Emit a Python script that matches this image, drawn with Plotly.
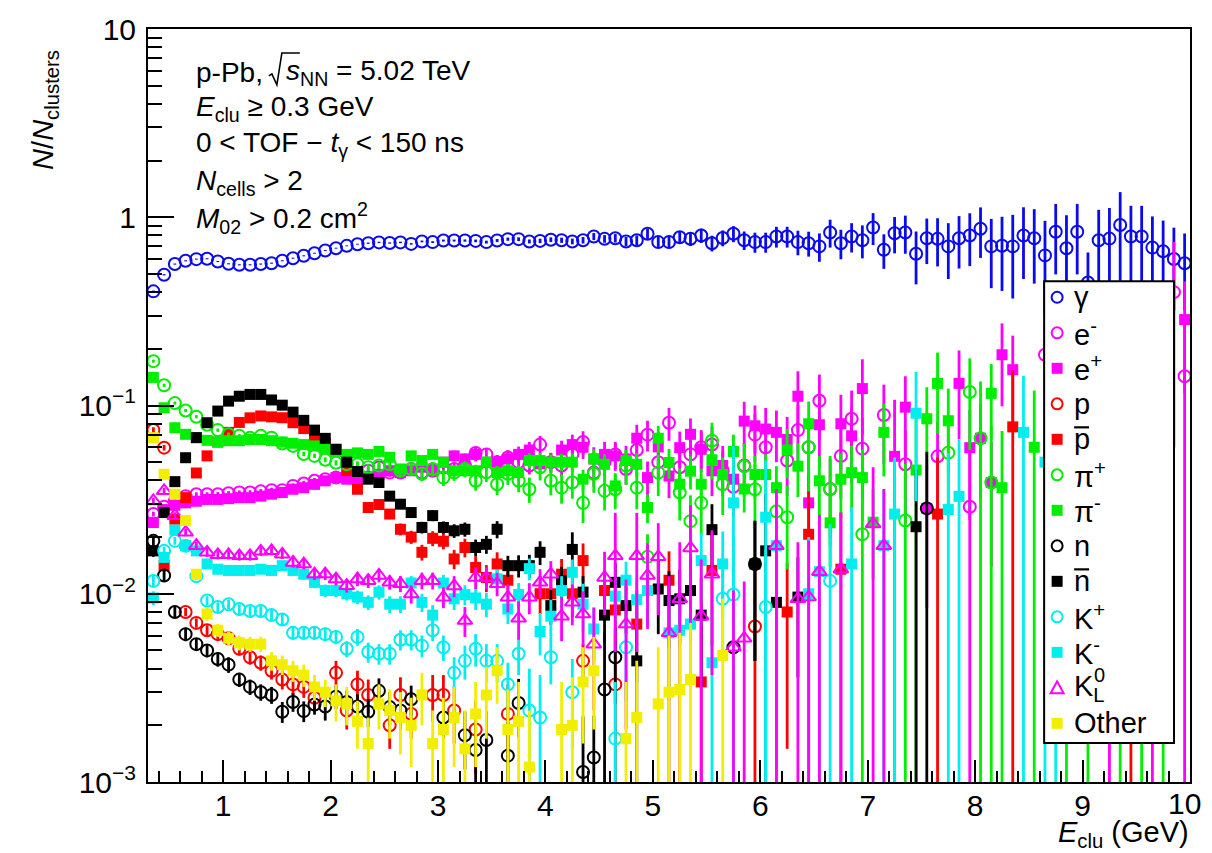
import plotly.graph_objects as go

# ---------------------------------------------------------------------------
# Histogram binning: 0.1 GeV wide bins between 0.3 and 10 GeV
# ---------------------------------------------------------------------------
E_MIN, BIN_W, N_BINS = 0.3, 0.1, 97
E_CENTERS = [round(E_MIN + BIN_W * (k + 0.5), 3) for k in range(N_BINS)]

N = None  # empty bin

# ---------------------------------------------------------------------------
# Fraction of clusters per particle species (N / N_clusters) and stat. errors
# ---------------------------------------------------------------------------
gamma = [
    0.404, 0.495, 0.564, 0.587, 0.599, 0.602, 0.582, 0.566, 0.559, 0.559,
    0.564, 0.570, 0.587, 0.606, 0.624, 0.644, 0.666, 0.685, 0.705, 0.719,
    0.728, 0.735, 0.730, 0.735, 0.722, 0.744, 0.738, 0.752, 0.752, 0.752,
    0.749, 0.738, 0.752, 0.765, 0.765, 0.744, 0.749, 0.760, 0.755, 0.744,
    0.755, 0.790, 0.768, 0.774, 0.744, 0.755, 0.817, 0.738, 0.738, 0.783,
    0.768, 0.800, 0.728, 0.776, 0.817, 0.755, 0.738, 0.738, 0.790, 0.790,
    0.738, 0.728, 0.700, 0.830, 0.728, 0.790, 0.755, 0.882, 0.672, 0.823,
    0.830, 0.640, 0.774, 0.768, 0.700, 0.774, 0.800, 0.868, 0.700, 0.706,
    0.700, 0.800, 0.774, 0.627, 0.837, 0.685, 0.837, 0.450, 0.755, 0.770,
    0.910, 0.790, 0.790, 0.690, 0.660, 0.600, 0.570]
gamma_err = [
    0.004, 0.004, 0.004, 0.004, 0.004, 0.004, 0.004, 0.004, 0.004, 0.004,
    0.004, 0.004, 0.004, 0.004, 0.004, 0.004, 0.004, 0.004, 0.004, 0.004,
    0.006, 0.006, 0.006, 0.007, 0.007, 0.008, 0.008, 0.009, 0.009, 0.010,
    0.012, 0.013, 0.014, 0.015, 0.017, 0.018, 0.020, 0.022, 0.024, 0.026,
    0.030, 0.034, 0.036, 0.040, 0.042, 0.045, 0.050, 0.050, 0.055, 0.060,
    0.065, 0.070, 0.070, 0.075, 0.080, 0.085, 0.090, 0.090, 0.100, 0.100,
    0.110, 0.110, 0.120, 0.140, 0.130, 0.140, 0.150, 0.170, 0.140, 0.180,
    0.190, 0.200, 0.210, 0.220, 0.230, 0.240, 0.250, 0.260, 0.280, 0.300,
    0.330, 0.330, 0.330, 0.330, 0.340, 0.340, 0.340, 0.200, 0.340, 0.350,
    0.450, 0.360, 0.360, 0.320, 0.300, 0.280, 0.250]

e_minus = [
    0.0265, 0.029, 0.031, 0.033, 0.0338, 0.0338, 0.0338, 0.0342, 0.0345, 0.0345,
    0.035, 0.0355, 0.0355, 0.0374, 0.0385, 0.0398, 0.0406, 0.0414, 0.042, 0.044,
    0.045, 0.0469, 0.044, 0.044, 0.046, 0.044, 0.045, 0.047, 0.046, 0.048,
    0.056, 0.055, 0.050, 0.053, 0.050, 0.048, 0.062, 0.050, 0.048, 0.055,
    0.064, 0.044, 0.050, 0.055, 0.046, 0.058, 0.070, 0.050, 0.081, 0.047,
    0.055, 0.060, 0.062, 0.045, 0.037, 0.048, 0.070, 0.060, N, 0.051,
    0.074, 0.060, 0.106, 0.036, 0.054, 0.085, 0.059, N, 0.089, N,
    0.0487, N, N, 0.0537, N, N, 0.029, N, N, N,
    N, N, N, 0.186, N, N, N, N, N, N,
    N, N, N, N, N, 0.40, 0.143]
e_minus_err = [
    0.0008, 0.0008, 0.0008, 0.0008, 0.0008, 0.0008, 0.0009, 0.0009, 0.0009, 0.0010,
    0.0010, 0.0011, 0.0011, 0.0012, 0.0013, 0.0014, 0.0015, 0.0016, 0.0017, 0.0019,
    0.0020, 0.0022, 0.0022, 0.0023, 0.0025, 0.0026, 0.0028, 0.0030, 0.0032, 0.0035,
    0.0045, 0.0045, 0.0045, 0.0050, 0.0050, 0.0050, 0.0070, 0.0060, 0.0060, 0.0070,
    0.0090, 0.0070, 0.0080, 0.0090, 0.0080, 0.0100, 0.0130, 0.0100, 0.0160, 0.0100,
    0.0120, 0.0140, 0.0150, 0.0120, 0.0110, 0.0140, 0.0200, 0.0190, N, 0.0180,
    0.0270, 0.0220, 0.0400, 0.0160, 0.0220, 0.0350, 0.0270, N, 0.0400, N,
    0.0250, N, N, 0.0280, N, N, 0.0290, N, N, N,
    N, N, N, 0.0900, N, N, N, N, N, N,
    N, N, N, N, N, 0.3400, 0.1430]

e_plus = [
    0.0239, 0.028, 0.0295, 0.0304, 0.031, 0.0317, 0.0317, 0.032, 0.0324, 0.0324,
    0.033, 0.0338, 0.0345, 0.0359, 0.0366, 0.0381, 0.0398, 0.0414, 0.0406, 0.0406,
    0.042, 0.043, 0.045, 0.044, 0.045, 0.047, 0.045, 0.050, 0.054, 0.052,
    0.055, 0.050, 0.050, 0.052, 0.055, 0.058, 0.049, 0.050, 0.058, 0.062,
    0.060, 0.052, 0.055, 0.054, 0.052, 0.067, 0.0414, 0.0603, 0.0422, 0.0597,
    0.0703, 0.0585, 0.045, 0.048, 0.0406, 0.0826, 0.078, 0.075, 0.072, 0.066,
    0.112, 0.0304, 0.079, N, 0.080, 0.069, 0.123, N, N, 0.0537,
    0.098, N, 0.0284, N, N, 0.131, 0.0597, 0.067, 0.039, 0.186,
    0.155, N, N, N, N, N, N, N, N, 0.12,
    N, N, N, 0.09, N, N, 0.286]
e_plus_err = [
    0.0008, 0.0008, 0.0008, 0.0008, 0.0008, 0.0008, 0.0008, 0.0009, 0.0009, 0.0009,
    0.0010, 0.0010, 0.0011, 0.0012, 0.0013, 0.0014, 0.0015, 0.0016, 0.0017, 0.0018,
    0.0019, 0.0021, 0.0023, 0.0024, 0.0026, 0.0028, 0.0028, 0.0032, 0.0036, 0.0036,
    0.0045, 0.0043, 0.0045, 0.0050, 0.0055, 0.0060, 0.0055, 0.0060, 0.0070, 0.0080,
    0.0080, 0.0080, 0.0090, 0.0090, 0.0090, 0.0120, 0.0090, 0.0120, 0.0100, 0.0130,
    0.0150, 0.0140, 0.0120, 0.0130, 0.0120, 0.0220, 0.0220, 0.0220, 0.0220, 0.0210,
    0.0400, 0.0130, 0.0320, N, 0.0340, 0.0300, 0.0530, N, N, 0.0537,
    0.0450, N, 0.0200, N, N, 0.0650, 0.0350, 0.0350, 0.0250, 0.0870,
    0.0800, N, N, N, N, N, N, N, N, 0.1200,
    N, N, N, 0.0900, N, N, 0.1700]

proton = [
    0.0741, 0.0597, N, 0.0080, 0.0070, 0.0064, 0.0061, 0.0058, 0.0051, 0.0046,
    0.0043, 0.0039, 0.0035, 0.0033, 0.0032, 0.0028, N, 0.0038, 0.0024, 0.0033,
    0.0029, N, 0.0020, 0.0029, 0.0023, N, 0.0029, 0.0029, 0.0024, N,
    0.0019, N, N, 0.0023, N, N, N, N, N, N,
    0.0044, N, N, 0.0033, N, N, N, N, N, N,
    N, N, N, N, N, N, 0.0067, N, N, N,
    N, N, N, N, N, N, N, N, N, N,
    N, N, N, N, N, N, N, N, N, N,
    N, N, N, N, N, N, N, N, N, N,
    N, N, N, N, N, N, N]
proton_err = [
    0.0025, 0.0020, N, 0.0004, 0.0004, 0.0004, 0.0004, 0.0004, 0.0004, 0.0004,
    0.0004, 0.0004, 0.0004, 0.0004, 0.0004, 0.0004, N, 0.0006, 0.0005, 0.0006,
    0.0006, N, 0.0005, 0.0007, 0.0006, N, 0.0008, 0.0008, 0.0008, N,
    0.0008, N, N, 0.0010, N, N, N, N, N, N,
    0.0010, N, N, 0.0026, N, N, N, N, N, N,
    N, N, N, N, N, N, 0.0067, N, N, N,
    N, N, N, N, N, N, N, N, N, N,
    N, N, N, N, N, N, N, N, N, N,
    N, N, N, N, N, N, N, N, N, N,
    N, N, N, N, N, N, N]

antiproton = [
    N, 0.0141, 0.0249, 0.0324, 0.0438, 0.054, 0.064, 0.072, 0.0813, 0.086,
    0.088, 0.087, 0.0861, 0.081, 0.0754, 0.0683, 0.063, 0.0585, 0.0451, 0.0359,
    0.0287, 0.0298, 0.0265, 0.022, 0.020, 0.0166, 0.0197, 0.019, 0.0153, 0.0176,
    0.0138, 0.0122, 0.0144, 0.0118, N, N, 0.0100, 0.0100, 0.0127, 0.0100,
    0.0150, N, 0.0104, 0.0082, N, 0.0069, N, N, 0.0118, N,
    N, 0.0034, 0.0133, N, N, N, N, N, N, 0.0080,
    N, 0.0207, N, N, 0.0135, N, N, N, N, N,
    N, N, N, 0.0265, N, N, N, N, N, N,
    0.077, N, N, N, N, N, N, N, N, N,
    N, 0.030, N, N, N, N, N]
antiproton_err = [
    N, 0.0010, 0.0012, 0.0014, 0.0016, 0.0018, 0.0020, 0.0020, 0.0020, 0.0020,
    0.0020, 0.0020, 0.0020, 0.0020, 0.0020, 0.0020, 0.0020, 0.0020, 0.0018, 0.0016,
    0.0015, 0.0016, 0.0016, 0.0016, 0.0016, 0.0016, 0.0018, 0.0018, 0.0018, 0.0020,
    0.0020, 0.0020, 0.0022, 0.0022, N, N, 0.0022, 0.0022, 0.0026, 0.0025,
    0.0035, N, 0.0030, 0.0030, N, 0.0035, N, N, 0.0050, N,
    N, 0.0034, 0.0080, N, N, N, N, N, N, 0.0065,
    N, 0.0207, N, N, 0.0135, N, N, N, N, N,
    N, N, N, 0.0265, N, N, N, N, N, N,
    0.0770, N, N, N, N, N, N, N, N, N,
    N, 0.0300, N, N, N, N, N]

pi_plus = [
    0.172, 0.128, 0.103, 0.094, 0.0872, 0.079, 0.074, 0.0703, 0.069, 0.0675,
    0.069, 0.0675, 0.0628, 0.061, 0.0553, 0.054, 0.0515, 0.0496, 0.0487, 0.0487,
    0.047, 0.048, 0.0487, 0.045, 0.046, 0.0434, 0.046, 0.0414, 0.044, 0.046,
    0.0398, 0.0442, 0.0382, 0.0434, 0.0398, 0.0359, 0.047, 0.0398, 0.0366, 0.039,
    0.0304, 0.0434, 0.0352, 0.0359, 0.048, 0.0366, 0.0157, 0.044, N, 0.0345,
    0.0243, 0.0304, 0.065, 0.0382, N, 0.0476, 0.0359, N, 0.0274, 0.0255,
    N, 0.060, N, 0.0359, N, N, 0.0207, N, N, N,
    0.0245, N, N, N, 0.0561, N, 0.118, 0.067, 0.039, N,
    N, N, N, N, N, N, N, N, N, N,
    N, N, N, N, N, N, N]
pi_plus_err = [
    0.0030, 0.0025, 0.0020, 0.0018, 0.0017, 0.0016, 0.0015, 0.0015, 0.0015, 0.0015,
    0.0015, 0.0015, 0.0015, 0.0015, 0.0015, 0.0015, 0.0015, 0.0016, 0.0017, 0.0018,
    0.0020, 0.0022, 0.0025, 0.0030, 0.0035, 0.0038, 0.0040, 0.0040, 0.0042, 0.0045,
    0.0045, 0.0050, 0.0048, 0.0055, 0.0052, 0.0055, 0.0070, 0.0065, 0.0065, 0.0070,
    0.0067, 0.0090, 0.0075, 0.0078, 0.0100, 0.0085, 0.0050, 0.0110, N, 0.0100,
    0.0090, 0.0100, 0.0160, 0.0120, N, 0.0150, 0.0130, N, 0.0120, 0.0120,
    N, 0.0250, N, 0.0180, N, N, 0.0207, N, N, N,
    0.0245, N, N, N, 0.0300, N, 0.0600, 0.0670, 0.0390, N,
    N, N, N, N, N, N, N, N, N, N,
    N, N, N, N, N, N, N]

pi_minus = [
    0.141, 0.0973, 0.0762, 0.0703, 0.0675, 0.0653, 0.064, 0.065, 0.065, 0.066,
    0.066, 0.065, 0.064, 0.063, 0.062, 0.061, 0.059, 0.057, 0.055, 0.056,
    0.055, 0.057, 0.0531, 0.046, 0.054, 0.051, 0.055, 0.050, 0.045, 0.045,
    0.045, 0.050, 0.044, 0.045, 0.044, 0.051, 0.051, 0.050, 0.050, 0.050,
    0.0406, 0.052, 0.0487, 0.0374, 0.051, 0.0487, 0.0287, 0.067, 0.0498, 0.0382,
    0.0448, 0.0382, 0.0515, 0.043, 0.057, 0.036, 0.043, 0.043, 0.0366, 0.058,
    0.0476, 0.080, 0.0398, 0.0238, 0.0406, 0.044, 0.0414, 0.024, 0.072, N,
    N, 0.0454, 0.085, 0.131, 0.083, N, N, N, 0.116, 0.0366,
    N, N, 0.060, N, N, 0.050, N, 0.070, N, N,
    0.060, N, 0.080, N, 0.100, N, N]
pi_minus_err = [
    0.0025, 0.0020, 0.0018, 0.0016, 0.0015, 0.0015, 0.0014, 0.0014, 0.0014, 0.0014,
    0.0014, 0.0014, 0.0014, 0.0014, 0.0014, 0.0014, 0.0014, 0.0015, 0.0016, 0.0017,
    0.0018, 0.0020, 0.0022, 0.0022, 0.0027, 0.0028, 0.0030, 0.0030, 0.0030, 0.0032,
    0.0034, 0.0040, 0.0037, 0.0040, 0.0040, 0.0047, 0.0050, 0.0050, 0.0053, 0.0055,
    0.0050, 0.0065, 0.0063, 0.0055, 0.0070, 0.0070, 0.0050, 0.0110, 0.0090, 0.0080,
    0.0090, 0.0080, 0.0110, 0.0100, 0.0130, 0.0090, 0.0110, 0.0120, 0.0110, 0.0170,
    0.0150, 0.0250, 0.0140, 0.0100, 0.0150, 0.0170, 0.0170, 0.0120, 0.0300, N,
    N, 0.0454, 0.0400, 0.0600, 0.0400, N, N, N, 0.0500, 0.0366,
    N, N, 0.0600, N, N, 0.0500, N, 0.0700, N, N,
    0.0600, N, 0.0800, N, 0.1000, N, N]

neutron = [
    0.0191, 0.0125, 0.0080, 0.0061, 0.0054, 0.0050, 0.0045, 0.0042, 0.0035, 0.0032,
    0.0030, 0.0029, 0.00236, 0.00266, 0.00238, 0.00258, 0.00252, 0.00284, 0.00266, 0.00252,
    0.00236, 0.00305, 0.0025, 0.0024, 0.00275, N, N, 0.0022, N, 0.00177,
    0.00148, 0.00167, N, 0.00138, 0.00263, N, N, N, N, N,
    0.00113, 0.00135, 0.0031, 0.0046, N, N, N, N, N, N,
    N, N, N, N, 0.0052, N, 0.0144, N, N, N,
    N, N, N, N, N, N, N, N, N, N,
    N, N, 0.0284, N, N, N, N, N, N, N,
    N, N, N, N, N, N, N, N, N, N,
    N, N, N, N, N, N, N]
neutron_err = [
    0.0012, 0.0009, 0.0006, 0.0005, 0.0004, 0.0004, 0.0004, 0.0004, 0.0003, 0.0003,
    0.0003, 0.0003, 0.0003, 0.0003, 0.0003, 0.0003, 0.0004, 0.0004, 0.0004, 0.0004,
    0.0004, 0.0005, 0.0005, 0.0005, 0.0005, N, N, 0.0005, N, 0.0006,
    0.0006, 0.0007, N, 0.0007, 0.0009, N, N, N, N, N,
    0.0011, 0.0009, 0.0031, 0.0020, N, N, N, N, N, N,
    N, N, N, N, 0.0052, N, 0.0100, N, N, N,
    N, N, N, N, N, N, N, N, N, N,
    N, N, 0.0284, N, N, N, N, N, N, N,
    N, N, N, N, N, N, N, N, N, N,
    N, N, N, N, N, N, N]

antineutron = [
    0.0169, 0.027, 0.0394, 0.0528, 0.0675, 0.081, 0.0934, 0.1055, 0.112, 0.1145,
    0.1145, 0.107, 0.1004, 0.0922, 0.0834, 0.074, 0.0669, 0.0585, 0.050, 0.0446,
    0.0406, 0.039, 0.033, 0.0299, 0.027, 0.0225, 0.026, 0.0225, 0.0216, 0.022,
    0.0176, 0.0183, 0.022, 0.0141, 0.0141, 0.0141, 0.0166, 0.00865, 0.0117, 0.0172,
    0.0102, N, 0.0077, 0.0115, 0.00865, 0.0044, N, 0.0106, 0.0092, 0.0094,
    0.0104, 0.0077, 0.0219, N, N, N, 0.0144, 0.0169, 0.0090, N,
    0.0096, N, N, N, N, N, N, N, N, N,
    N, 0.0227, N, N, N, N, N, N, N, N,
    N, N, N, N, N, N, N, N, N, N,
    N, N, N, N, N, N, N]
antineutron_err = [
    0.0012, 0.0015, 0.0018, 0.0020, 0.0022, 0.0024, 0.0025, 0.0026, 0.0026, 0.0026,
    0.0026, 0.0025, 0.0024, 0.0023, 0.0022, 0.0021, 0.0020, 0.0019, 0.0018, 0.0017,
    0.0017, 0.0017, 0.0016, 0.0016, 0.0016, 0.0016, 0.0017, 0.0017, 0.0018, 0.0019,
    0.0018, 0.0020, 0.0023, 0.0018, 0.0019, 0.0020, 0.0024, 0.0018, 0.0022, 0.0040,
    0.0022, N, 0.0022, 0.0030, 0.0025, 0.0044, N, 0.0045, 0.0040, 0.0040,
    0.0050, 0.0045, 0.0080, N, N, N, 0.0100, 0.0169, 0.0090, N,
    0.0060, N, N, N, N, N, N, N, N, N,
    N, 0.0227, N, N, N, N, N, N, N, N,
    N, N, N, N, N, N, N, N, N, N,
    N, N, N, N, N, N, N]

k_plus = [
    0.0117, 0.0169, 0.0191, 0.018, 0.0124, 0.0092, 0.0085, 0.0088, 0.0083, 0.0081,
    0.0081, 0.0077, 0.0073, 0.0062, 0.0062, 0.0062, 0.0061, 0.0059, 0.0051, 0.0059,
    0.0049, 0.0048, 0.0048, 0.0057, 0.0057, 0.0053, 0.0064, 0.0052, 0.0038, 0.0044,
    0.0051, 0.0044, 0.0044, 0.0033, 0.0048, 0.0024, 0.0022, 0.0046, N, 0.0030,
    N, N, N, 0.0017, 0.0052, N, N, N, N, N,
    N, N, N, 0.0094, 0.0099, N, N, 0.0085, N, N,
    N, N, N, 0.0117, N, N, N, N, N, N,
    N, N, N, N, N, N, N, N, N, N,
    N, N, N, N, N, N, N, N, N, N,
    N, N, N, N, N, N, N]
k_plus_err = [
    0.0008, 0.0009, 0.0009, 0.0008, 0.0006, 0.0005, 0.0005, 0.0005, 0.0005, 0.0005,
    0.0005, 0.0005, 0.0005, 0.0005, 0.0005, 0.0005, 0.0005, 0.0005, 0.0005, 0.0006,
    0.0006, 0.0006, 0.0006, 0.0007, 0.0007, 0.0007, 0.0008, 0.0008, 0.0008, 0.0009,
    0.0010, 0.0010, 0.0010, 0.0010, 0.0011, 0.0016, 0.0015, 0.0013, N, 0.0015,
    N, N, N, 0.0017, 0.0025, N, N, N, N, N,
    N, N, N, 0.0050, 0.0099, N, N, 0.0085, N, N,
    N, N, N, 0.0117, N, N, N, N, N, N,
    N, N, N, N, N, N, N, N, N, N,
    N, N, N, N, N, N, N, N, N, N,
    N, N, N, N, N, N, N]

k_minus = [
    0.0095, 0.0156, 0.0218, 0.018, 0.0169, 0.0144, 0.0135, 0.0133, 0.0133, 0.0133,
    0.0135, 0.0133, 0.0141, 0.0133, 0.0127, 0.0115, 0.0104, 0.0104, 0.0100, 0.0096,
    0.0090, 0.0102, 0.0088, 0.0088, 0.0114, 0.0090, 0.0077, 0.0114, 0.0094, 0.0099,
    0.0095, 0.0088, 0.0120, 0.0083, 0.0099, 0.0136, 0.0063, 0.0076, 0.0104, 0.0130,
    0.0088, 0.0065, N, 0.0097, 0.0118, 0.0093, 0.0104, N, 0.0062, 0.0064,
    0.0069, 0.0150, 0.0043, 0.0144, 0.0304, N, N, 0.0255, 0.0180, N,
    N, 0.0100, 0.0131, N, N, 0.0144, N, N, 0.0180, 0.0265,
    N, 0.0910, N, N, 0.0280, 0.0329, N, N, N, N,
    N, 0.0720, N, 0.0500, 0.0500, N, N, N, N, N,
    N, N, N, N, N, N, N]
k_minus_err = [
    0.0008, 0.0010, 0.0012, 0.0010, 0.0009, 0.0008, 0.0008, 0.0008, 0.0008, 0.0008,
    0.0008, 0.0008, 0.0008, 0.0008, 0.0008, 0.0008, 0.0008, 0.0008, 0.0008, 0.0008,
    0.0008, 0.0009, 0.0009, 0.0009, 0.0010, 0.0010, 0.0010, 0.0012, 0.0012, 0.0012,
    0.0013, 0.0013, 0.0015, 0.0014, 0.0015, 0.0018, 0.0016, 0.0017, 0.0020, 0.0022,
    0.0025, 0.0020, N, 0.0025, 0.0030, 0.0028, 0.0035, N, 0.0035, 0.0035,
    0.0035, 0.0060, 0.0043, 0.0070, 0.0304, N, N, 0.0255, 0.0180, N,
    N, 0.0100, 0.0131, N, N, 0.0144, N, N, 0.0180, 0.0265,
    N, 0.0600, N, N, 0.0280, 0.0329, N, N, N, N,
    N, 0.0720, N, 0.0500, 0.0500, N, N, N, N, N,
    N, N, N, N, N, N, N]

k0_long = [
    0.0311, 0.0352, 0.026, 0.0212, 0.0180, 0.0166, 0.0161, 0.0161, 0.0159, 0.0159,
    0.0168, 0.0169, 0.0162, 0.01467, 0.01438, 0.01273, 0.01273, 0.01197, 0.01104, 0.01197,
    0.01174, 0.0125, 0.0115, 0.0113, 0.00997, 0.01174, 0.01174, 0.00958, 0.0110, 0.0072,
    0.0122, 0.0122, 0.0113, 0.00958, 0.0074, 0.00958, 0.0115, 0.0127, 0.0076, 0.0090,
    0.0078, 0.0054, 0.0122, 0.0159, 0.0069, 0.0159, 0.0125, 0.0157, 0.0062, 0.0094,
    0.0175, 0.0076, 0.0127, N, 0.0052, 0.0058, N, N, 0.0180, N,
    0.0094, 0.0096, 0.0131, N, 0.0135, N, N, 0.0235, 0.0180, N,
    N, N, N, N, N, N, N, N, N, N,
    N, N, N, N, N, N, N, N, N, N,
    N, N, N, N, N, N, N]
k0_long_err = [
    0.0012, 0.0013, 0.0011, 0.0010, 0.0009, 0.0009, 0.0009, 0.0009, 0.0009, 0.0009,
    0.0009, 0.0009, 0.0009, 0.0009, 0.0009, 0.0009, 0.0009, 0.0009, 0.0009, 0.0010,
    0.0010, 0.0010, 0.0010, 0.0011, 0.0011, 0.0012, 0.0012, 0.0012, 0.0014, 0.0013,
    0.0016, 0.0016, 0.0016, 0.0016, 0.0017, 0.0018, 0.0020, 0.0022, 0.0020, 0.0022,
    0.0025, 0.0030, 0.0045, 0.0110, 0.0050, 0.0110, 0.0060, 0.0080, 0.0062, 0.0094,
    0.0120, 0.0076, 0.0090, N, 0.0052, 0.0058, N, N, 0.0180, N,
    0.0094, 0.0096, 0.0131, N, 0.0135, N, N, 0.0235, 0.0180, N,
    N, N, N, N, N, N, N, N, N, N,
    N, N, N, N, N, N, N, N, N, N,
    N, N, N, N, N, N, N]

other = [
    0.0675, 0.0431, 0.0338, 0.0245, 0.0127, 0.0078, 0.0064, 0.0058, 0.0055, 0.0054,
    0.0054, 0.0044, 0.0042, 0.0039, 0.0037, 0.0032, 0.0030, 0.0027, 0.0026, 0.0021,
    0.0016, 0.0026, 0.0024, 0.0022, 0.0020, 0.0029, 0.0016, 0.0019, 0.0022, 0.0015,
    0.0023, 0.0029, 0.0039, 0.0019, 0.0021, 0.0012, N, N, 0.0019, 0.0020,
    0.0034, 0.0039, N, N, 0.0017, 0.0022, N, 0.0026, 0.0030, 0.0031,
    0.0035, N, N, 0.0047, N, N, N, N, N, N,
    N, N, N, N, N, N, N, N, N, N,
    N, N, N, N, N, N, N, N, N, N,
    N, N, N, N, N, N, N, N, N, N,
    N, N, N, N, N, N, N]
other_err = [
    0.0030, 0.0020, 0.0016, 0.0012, 0.0008, 0.0006, 0.0005, 0.0005, 0.0005, 0.0005,
    0.0005, 0.0005, 0.0005, 0.0005, 0.0005, 0.0005, 0.0005, 0.0006, 0.0006, 0.0006,
    0.0006, 0.0007, 0.0007, 0.0008, 0.0008, 0.0009, 0.0008, 0.0009, 0.0010, 0.0009,
    0.0011, 0.0012, 0.0013, 0.0012, 0.0013, 0.0012, N, N, 0.0015, 0.0016,
    0.0018, 0.0020, N, N, 0.0017, 0.0022, N, 0.0026, 0.0030, 0.0031,
    0.0035, N, N, 0.0047, N, N, N, N, N, N,
    N, N, N, N, N, N, N, N, N, N,
    N, N, N, N, N, N, N, N, N, N,
    N, N, N, N, N, N, N, N, N, N,
    N, N, N, N, N, N, N]

# ---------------------------------------------------------------------------
# Styling
# ---------------------------------------------------------------------------
FONT = "Liberation Sans, Arial, Helvetica, sans-serif"
BLUE, MAGENTA, RED = "#0a0aee", "#ff00ff", "#ff0000"
GREEN, BLACK, CYAN, YELLOW = "#00ee00", "#000000", "#00eeee", "#f2ee00"

# (legend label, values, errors, marker symbol, colour, label has overbar)
species = [
    ("γ", gamma, gamma_err, "circle-open", BLUE, False),
    ("e<sup>-</sup>", e_minus, e_minus_err, "circle-open", MAGENTA, False),
    ("e<sup>+</sup>", e_plus, e_plus_err, "square", MAGENTA, False),
    ("p", proton, proton_err, "circle-open", RED, False),
    ("p", antiproton, antiproton_err, "square", RED, True),
    ("π<sup>+</sup>", pi_plus, pi_plus_err, "circle-open", GREEN, False),
    ("π<sup>-</sup>", pi_minus, pi_minus_err, "square", GREEN, False),
    ("n", neutron, neutron_err, "circle-open", BLACK, False),
    ("n", antineutron, antineutron_err, "square", BLACK, True),
    ("K<sup>+</sup>", k_plus, k_plus_err, "circle-open", CYAN, False),
    ("K<sup>-</sup>", k_minus, k_minus_err, "square", CYAN, False),
    ("K<sub>L</sub>", k0_long, k0_long_err, "triangle-up-open", MAGENTA, False),
    ("Other", other, other_err, "square", YELLOW, False),
]
MARKER_SIZE = {"circle-open": 12, "square": 11, "triangle-up-open": 13}

fig = go.Figure()
for name, vals, errs, symbol, color, _bar in species:
    is_open = symbol.endswith("open")
    fig.add_trace(go.Scatter(
        x=E_CENTERS, y=vals, name=name, mode="markers", showlegend=False,
        marker=dict(symbol=symbol, color=color, size=MARKER_SIZE[symbol],
                    line=dict(width=2 if is_open else 0, color=color)),
        error_y=dict(type="data", array=errs, visible=True,
                     color=color, thickness=2.8, width=0),
    ))

# Canvas and plot-area geometry in pixels
W, H = 1204, 853
PL, PR, PT, PB = 148, 1191, 27, 782


def px(x):
    return (x - PL) / (PR - PL)


def py(y):
    return (PB - y) / (PB - PT)


def path_str(points, close=False):
    s = "M " + " L ".join(f"{px(a):.5f},{py(b):.5f}" for a, b in points)
    return s + (" Z" if close else "")


decades = [1e-3, 1e-2, 1e-1, 1, 10]
y_ticktext = ["10<sup>−3</sup>", "10<sup>−2</sup>", "10<sup>−1</sup>", "1", "10"]
y_minor = [m * d for d in decades[:-1] for m in range(2, 10)]

x_major = [1, 2, 3, 4, 5, 6, 7, 8, 9, 10]
# the label of the last major tick sits at the canvas edge and is placed separately
x_ticktext = [str(v) for v in x_major[:-1]] + [""]

fig.update_layout(
    width=W, height=H,
    margin=dict(l=PL, r=W - PR, t=PT, b=H - PB, pad=0),
    paper_bgcolor="white", plot_bgcolor="white",
    font=dict(family=FONT, color="black"),
    showlegend=False,
    xaxis=dict(
        range=[0.3, 10], showgrid=False, zeroline=False,
        showline=True, linecolor="black", linewidth=2, mirror=True,
        ticks="inside", ticklen=22, tickwidth=1.5, tickcolor="black",
        tickmode="array", tickvals=x_major, ticktext=x_ticktext,
        tickfont=dict(family=FONT, size=30, color="black"),
        ticklabelstandoff=-4,
        minor=dict(ticks="inside", ticklen=11, tickwidth=1.5, tickcolor="black",
                   dtick=0.2, tick0=0, showgrid=False),
    ),
    yaxis=dict(
        type="log", range=[-3, 1], showgrid=False, zeroline=False,
        showline=True, linecolor="black", linewidth=2, mirror=True,
        ticks="inside", ticklen=26, tickwidth=1.5, tickcolor="black",
        tickmode="array", tickvals=decades, ticktext=y_ticktext,
        tickfont=dict(family=FONT, size=30, color="black"),
        ticklabelstandoff=4,
        minor=dict(ticks="inside", ticklen=14, tickwidth=1.5, tickcolor="black",
                   tickmode="array", tickvals=y_minor, showgrid=False),
    ),
)

shapes = []
annotations = []

# Last x tick label, kept inside the canvas
annotations.append(dict(text=str(x_major[-1]), x=px(W), y=py(804),
                        xanchor="right", yanchor="middle", font=dict(size=30)))

# Axis titles
annotations.append(dict(
    text="<i>E</i><sub>clu</sub> (GeV)", x=px(1192), y=py(834),
    xanchor="right", yanchor="middle", font=dict(size=29)))
annotations.append(dict(
    text="<i>N</i>/<i>N</i><sub>clusters</sub>", x=px(45), y=py(108),
    xanchor="center", yanchor="middle", textangle=-90, font=dict(size=29)))

# Collision system and selection cuts
TXT = 28
annotations.append(dict(text="p-Pb,", x=px(194), y=py(71),
                        xanchor="left", yanchor="middle", font=dict(size=TXT)))
annotations.append(dict(text="<i>s</i><sub>NN</sub> = 5.02 TeV", x=px(284), y=py(71),
                        xanchor="left", yanchor="middle", font=dict(size=TXT)))
# radical sign over s
shapes.append(dict(
    type="path", xref="paper", yref="paper", layer="above",
    path=path_str([(269, 74), (272, 72), (277, 83), (282, 51), (300, 51)]),
    line=dict(color="black", width=1.6)))
for txt, ypix in [
    ("<i>E</i><sub>clu</sub> ≥ 0.3 GeV", 107),
    ("0 < TOF − <i>t</i><sub>γ</sub> < 150 ns", 143),
    ("<i>N</i><sub>cells</sub> > 2", 181),
    ("<i>M</i><sub>02</sub> > 0.2 cm<sup>2</sup>", 217),
]:
    annotations.append(dict(text=txt, x=px(194), y=py(ypix),
                            xanchor="left", yanchor="middle", font=dict(size=TXT)))

# Legend box with one entry per species
LEG_L, LEG_R, LEG_T, LEG_B = 1045, 1175, 280, 743
shapes.append(dict(type="rect", xref="paper", yref="paper", layer="above",
                   x0=px(LEG_L), x1=px(LEG_R), y0=py(LEG_B), y1=py(LEG_T),
                   fillcolor="white", line=dict(color="black", width=2)))
MX, TX, Y0, DY = 1058, 1073, 296, 35.6
for k, (name, _v, _e, symbol, color, overbar) in enumerate(species):
    cy = Y0 + DY * k
    if symbol == "circle-open":
        shapes.append(dict(type="circle", xref="paper", yref="paper", layer="above",
                           x0=px(MX - 5.5), x1=px(MX + 5.5), y0=py(cy + 5.5), y1=py(cy - 5.5),
                           line=dict(color=color, width=2)))
    elif symbol == "square":
        shapes.append(dict(type="rect", xref="paper", yref="paper", layer="above",
                           x0=px(MX - 5.5), x1=px(MX + 5.5), y0=py(cy + 5.5), y1=py(cy - 5.5),
                           fillcolor=color, line=dict(width=0)))
    else:
        shapes.append(dict(type="path", xref="paper", yref="paper", layer="above",
                           path=path_str([(MX - 6.5, cy + 5.5), (MX + 6.5, cy + 5.5),
                                          (MX, cy - 6.5)], close=True),
                           line=dict(color=color, width=2)))
    annotations.append(dict(text=name, x=px(TX), y=py(cy),
                            xanchor="left", yanchor="middle", font=dict(size=29)))
    if overbar:
        shapes.append(dict(type="line", xref="paper", yref="paper", layer="above",
                           x0=px(TX + 2), x1=px(TX + 17), y0=py(cy - 12), y1=py(cy - 12),
                           line=dict(color="black", width=2.2)))
    if name.startswith("K<sub>L"):
        annotations.append(dict(text="0", x=px(TX + 20), y=py(cy - 13),
                                xanchor="left", yanchor="middle", font=dict(size=20)))

for a in annotations:
    a.update(xref="paper", yref="paper", showarrow=False)
    a["font"] = dict(family=FONT, color="black", **a.get("font", {}))

fig.update_layout(shapes=shapes, annotations=annotations)

fig.write_html("out.html", post_script="document.body.style.margin='0';")
